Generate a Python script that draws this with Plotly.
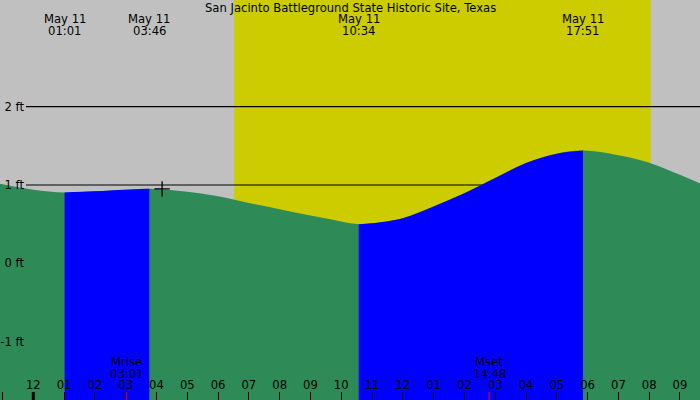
import plotly.graph_objects as go

DAY = "2024-05-11"

# tide height readings (ft), hourly plus the turning points
tide_times = ["2024-05-10 22:00", "2024-05-10 23:00", "2024-05-11 00:00", "2024-05-11 01:01",
              "2024-05-11 02:00", "2024-05-11 03:00", "2024-05-11 03:46", "2024-05-11 05:00",
              "2024-05-11 06:00", "2024-05-11 07:00", "2024-05-11 08:00", "2024-05-11 09:00",
              "2024-05-11 10:00", "2024-05-11 10:34", "2024-05-11 11:00", "2024-05-11 12:00",
              "2024-05-11 13:00", "2024-05-11 14:00", "2024-05-11 15:00", "2024-05-11 16:00",
              "2024-05-11 17:00", "2024-05-11 17:51", "2024-05-11 19:00", "2024-05-11 20:00",
              "2024-05-11 21:00", "2024-05-11 22:00"]
tide_ft = [1.08, 1.01, 0.94, 0.905, 0.92, 0.94, 0.953, 0.915, 0.855, 0.77, 0.69, 0.61,
           0.535, 0.50, 0.51, 0.575, 0.725, 0.895, 1.09, 1.28, 1.40, 1.44, 1.38, 1.285, 1.13, 0.96]

# rising tide periods (low -> high)
rising = [("2024-05-11 01:01", "2024-05-11 03:46"), ("2024-05-11 10:34", "2024-05-11 17:51")]

event_times = ["2024-05-11 01:01", "2024-05-11 03:46", "2024-05-11 10:34", "2024-05-11 17:51"]
event_labels = ["01:01", "03:46", "10:34", "17:51"]

sunrise, sunset = "2024-05-11 06:31", "2024-05-11 20:03"
moon_times = ["2024-05-11 03:01", "2024-05-11 14:48"]
moon_labels = ["Mrise", "Mset"]
moon_clock = ["03:01", "14:48"]

now_time, now_ft = "2024-05-11 04:11", 0.95

y_ticks = [-1, 0, 1, 2]
y_tick_text = ["-1 ft", "0 ft", "1 ft", "2 ft"]

title = "San Jacinto Battleground State Historic Site, Texas"

GREEN = "#2e8b57"
BLUE = "#0000ff"
BOTTOM = -2.0
FONT = "DejaVu Sans"
FS = 11.6

fig = go.Figure()

fig.add_trace(go.Scatter(x=[tide_times[0], tide_times[-1]], y=[BOTTOM, BOTTOM], mode="lines",
                         line=dict(width=0), hoverinfo="skip", showlegend=False))
fig.add_trace(go.Scatter(x=tide_times, y=tide_ft, mode="lines", fill="tonexty", fillcolor=GREEN,
                         line=dict(width=0, shape="spline"), showlegend=False))

for start, end in rising:
    xs = [t for t in tide_times if start <= t <= end]
    ys = [h for t, h in zip(tide_times, tide_ft) if start <= t <= end]
    fig.add_trace(go.Scatter(x=[start, end], y=[BOTTOM, BOTTOM], mode="lines",
                             line=dict(width=0), hoverinfo="skip", showlegend=False))
    fig.add_trace(go.Scatter(x=xs, y=ys, mode="lines", fill="tonexty", fillcolor=BLUE,
                             line=dict(width=0, shape="spline"), showlegend=False))

fig.add_trace(go.Scatter(x=[now_time], y=[now_ft], mode="markers",
                         marker=dict(symbol="cross-thin", size=11, line=dict(width=1.3, color="black")),
                         showlegend=False))

# daylight
fig.add_shape(type="rect", xref="x", yref="paper", x0=sunrise, x1=sunset, y0=0, y1=1,
              fillcolor="#cccc00", line_width=0, layer="below")
for lvl in [1, 2]:
    fig.add_shape(type="line", xref="paper", yref="y", x0=26 / 700, x1=1, y0=lvl, y1=lvl,
                  line=dict(color="black", width=1.2), layer="below")

# midnight tick and moon ticks
fig.add_shape(type="line", xref="x", yref="paper", x0=DAY + " 00:00", x1=DAY + " 00:00",
              y0=0, y1=8 / 400, line=dict(color="black", width=3))
for t in moon_times:
    fig.add_shape(type="line", xref="x", yref="paper", x0=t, x1=t, y0=0, y1=8 / 400,
                  line=dict(color="red", width=1))

fig.add_annotation(text=title, xref="paper", yref="paper", x=0.5, y=1 - 7.5 / 400,
                   showarrow=False, yanchor="middle", font=dict(size=FS))
for t, lab in zip(event_times, event_labels):
    fig.add_annotation(text="May 11", x=t, xref="x", yref="paper", y=1 - 19.5 / 400,
                       showarrow=False, yanchor="middle", font=dict(size=FS))
    fig.add_annotation(text=lab, x=t, xref="x", yref="paper", y=1 - 31.5 / 400,
                       showarrow=False, yanchor="middle", font=dict(size=FS))
for t, lab, clk in zip(moon_times, moon_labels, moon_clock):
    fig.add_annotation(text=lab, x=t, xref="x", yref="paper", y=1 - 361.5 / 400,
                       showarrow=False, yanchor="middle", font=dict(size=FS))
    fig.add_annotation(text=clk, x=t, xref="x", yref="paper", y=1 - 373.5 / 400,
                       showarrow=False, yanchor="middle", font=dict(size=FS))

fig.update_xaxes(type="date", range=["2024-05-10 22:55:08", "2024-05-11 21:39"],
                 dtick=3600000, tick0=DAY + " 00:00", tickformat="%I",
                 ticks="inside", ticklen=8, tickcolor="black", tickwidth=1,
                 ticklabelposition="inside", tickfont=dict(size=FS, color="black"),
                 showgrid=False, zeroline=False, showline=False)
fig.update_yaxes(range=[-1.746, 3.363], tickvals=y_ticks, ticktext=y_tick_text,
                 anchor="free", position=25 / 700, ticks="", ticklabelstandoff=1,
                 tickfont=dict(size=FS, color="black"),
                 showgrid=False, zeroline=False, showline=False)
fig.update_layout(width=700, height=400, margin=dict(l=0, r=0, t=0, b=0, autoexpand=False),
                  paper_bgcolor="#c0c0c0", plot_bgcolor="#c0c0c0",
                  font=dict(family=FONT, color="black"), hovermode=False)

# drop the default page margin so the 700x400 figure fills the window
fig.write_html("out.html", config={"displayModeBar": False},
               post_script="document.body.style.margin='0';")
